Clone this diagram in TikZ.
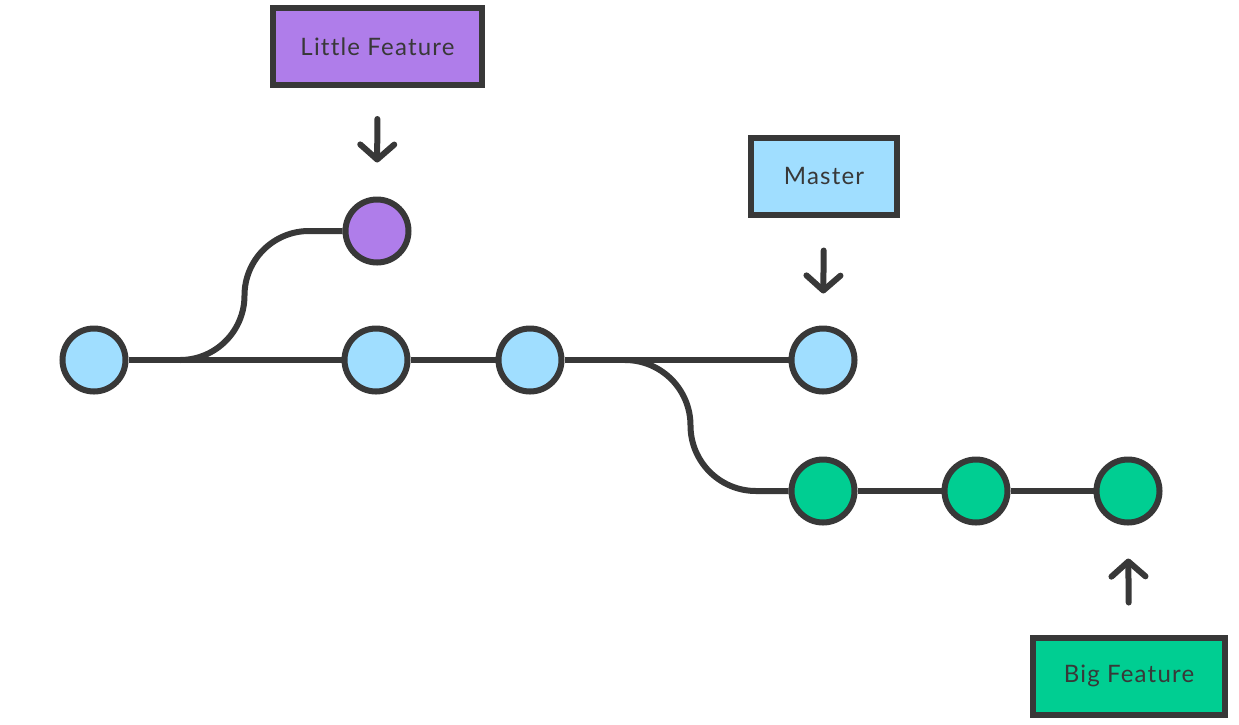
\documentclass[tikz,border=0pt]{standalone}
\usepackage{fontspec}
\setmainfont{Lato}[Ligatures=NoCommon]
\usetikzlibrary{arrows.meta}
\definecolor{ink}{HTML}{383838}
\definecolor{cpurple}{HTML}{AF7DEA}
\definecolor{cblue}{HTML}{A0DEFF}
\definecolor{cgreen}{HTML}{00CE92}
\tikzset{
  commit/.style={circle, draw=ink, line width=6pt, minimum size=63pt, inner sep=0pt},
  label/.style={draw=ink, line width=6pt, minimum height=77pt, inner sep=0pt,
    font=\fontsize{24}{28}\selectfont\addfontfeatures{LetterSpace=5}, text=ink},
  branch/.style={draw=ink, line width=6pt},
  ptr/.style={draw=ink, line width=6pt, line cap=round,
    -{Straight Barb[length=15pt, width=34pt, round]}},
}
\begin{document}
\begin{tikzpicture}[x=1pt, y=-1pt]
\useasboundingbox (0,0) rectangle (1239,724);
% commits
\node[commit, fill=cblue] (A) at (94,360) {};
\node[commit, fill=cblue] (B) at (376,360) {};
\node[commit, fill=cblue] (C) at (530,360) {};
\node[commit, fill=cblue] (D) at (823,360) {};
\node[commit, fill=cpurple] (P) at (377,231) {};
\node[commit, fill=cgreen] (G1) at (823,491) {};
\node[commit, fill=cgreen] (G2) at (976,491) {};
\node[commit, fill=cgreen] (G3) at (1128,491) {};
% labels
\node[label, fill=cpurple, minimum width=209pt] (LF) at (377.5,46.5) {Little Feature};
\node[label, fill=cblue, minimum width=146pt] (M) at (824,176) {Master};
\node[label, fill=cgreen, minimum width=192pt] (BF) at (1129,676) {Big Feature};
% branch points
\coordinate (s1) at (180,360);
\coordinate (s2) at (625,360);
% connectors
\draw[branch] (A) -- (B);
\draw[branch] (B) -- (C);
\draw[branch] (C) -- (D);
\draw[branch] (G1) -- (G2);
\draw[branch] (G2) -- (G3);
\draw[branch, rounded corners=64.5pt] (s1) -- ++(64.5,0) |- (P.west);
\draw[branch, rounded corners=65.5pt] (s2) -- ++(65.5,0) |- (G1.west);
% pointers
\draw[ptr, shorten <=31pt, shorten >=34pt] (LF.south) -- (P.north);
\draw[ptr, shorten <=33pt, shorten >=32pt] (M.south) -- (D.north);
\draw[ptr, shorten <=32pt, shorten >=33pt] (BF.north) -- (G3.south);
\end{tikzpicture}
\end{document}
